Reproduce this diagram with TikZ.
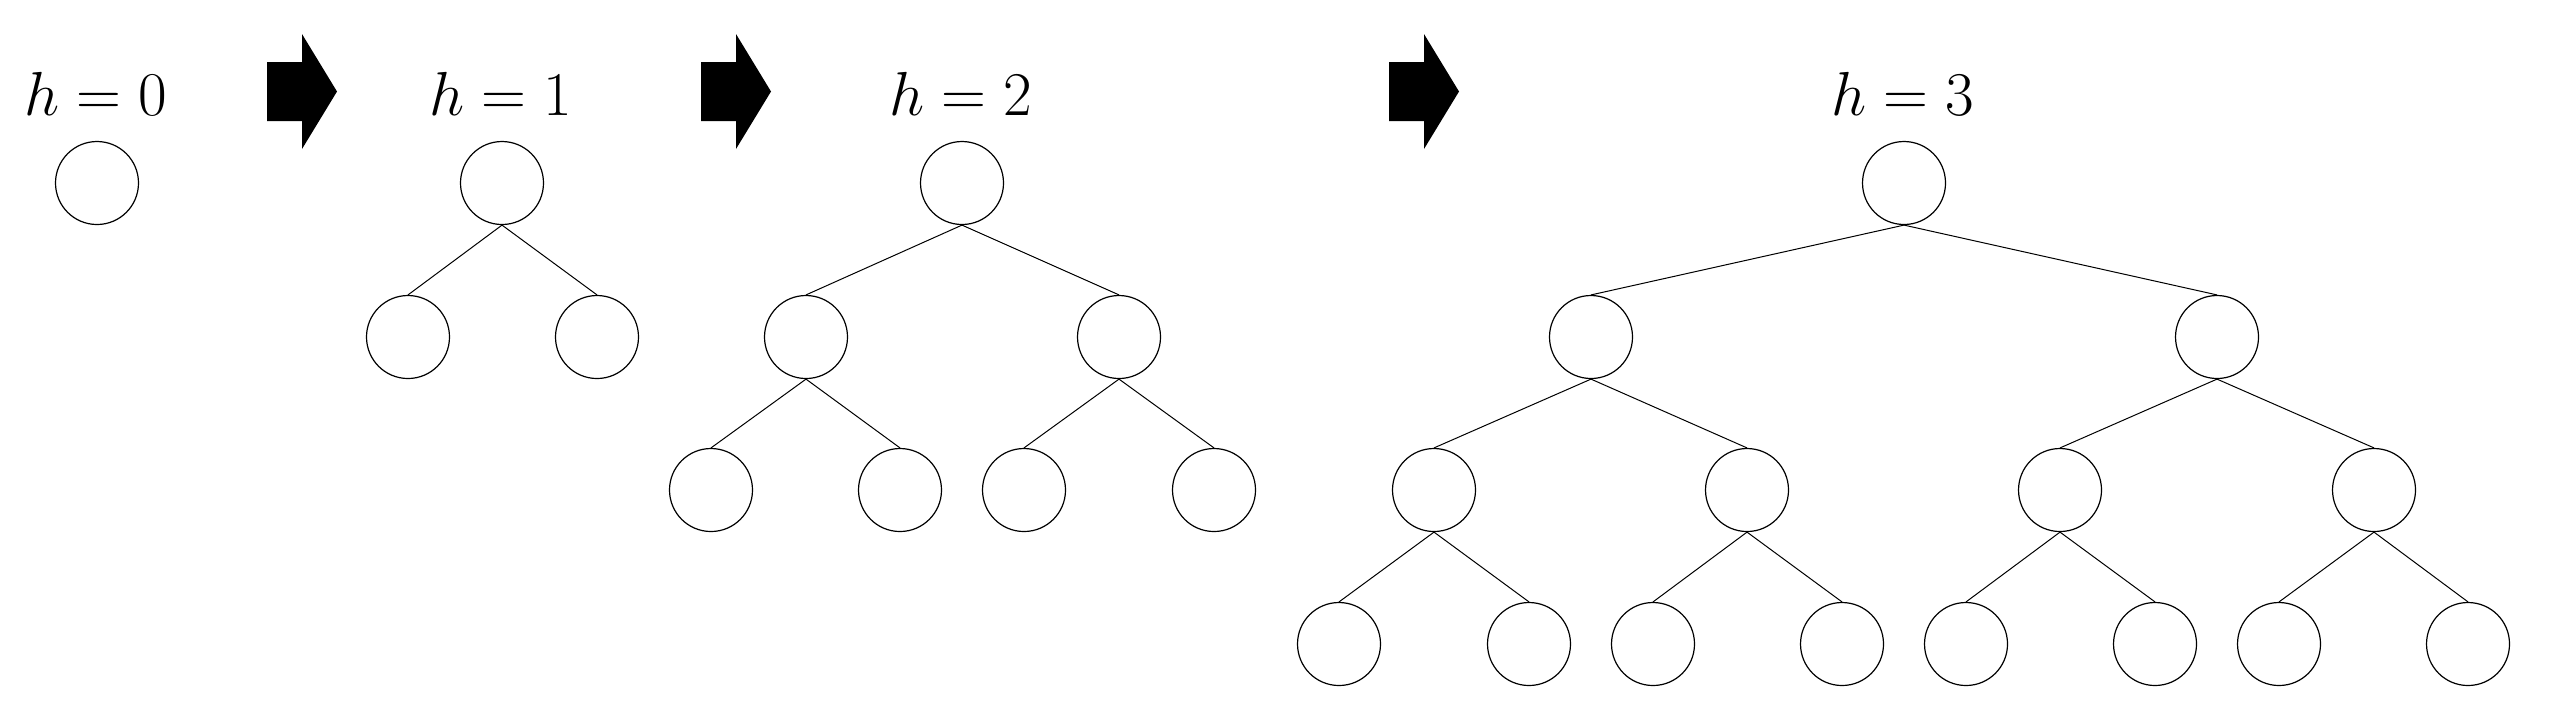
\documentclass[tikz,border=0pt]{standalone}
\usepackage{amsmath}
\usepackage{tikz}
\usetikzlibrary{positioning}
\newcommand{\hlabel}[1]{\scalebox{1.25}{\ensuremath{h = #1}}}
\newcommand{\growarrow}[2]{%
  \fill[black] (#1, -62) -- ++(35, 0) -- ++(0, 28) -- ++(35, -57.5)
    -- ++(-35, -57.5) -- ++(0, 28) -- ++(-35, 0) -- cycle;
  \coordinate (#2) at (#1, -91.5);}

\begin{document}
\begin{tikzpicture}[
    x = 0.5pt, y = 0.5pt,
    vertex/.style =
    { shape        = circle,
      draw,
      line width   = 0.6pt,
      inner sep    = 0pt,
      minimum size = 41.5pt },
    branch/.style =
    { line width = 0.5pt },
    height/.style =
    { anchor = base,
      inner sep = 0pt,
      font   = \fontsize{24.88}{30}\selectfont }
  ]
  \useasboundingbox (0, 0) rectangle (2558, -720);

  % labels
  \node[height] (l0) at (96, -115)   {\hlabel{0}};
  \node[height] (l1) at (501, -115)  {\hlabel{1}};
  \node[height] (l2) at (961, -115)  {\hlabel{2}};
  \node[height] (l3) at (1903, -115) {\hlabel{3}};

  % arrows
  \growarrow{267}{g1}
  \growarrow{701}{g2}
  \growarrow{1389}{g3}

  % h = 0
  \node[vertex] (a) at (97, -183) {};

  % h = 1
  \node[vertex] (b)  at (502, -183) {};
  \node[vertex] (bl) at (408, -337) {};
  \node[vertex] (br) at (597, -337) {};

  % h = 2
  \node[vertex] (c)   at (962, -183)  {};
  \node[vertex] (cl)  at (806, -337)  {};
  \node[vertex] (cr)  at (1119, -337) {};
  \node[vertex] (cll) at (711, -490)  {};
  \node[vertex] (clr) at (900, -490)  {};
  \node[vertex] (crl) at (1024, -490) {};
  \node[vertex] (crr) at (1214, -490) {};

  % h = 3
  \node[vertex] (d)    at (1904, -183) {};
  \node[vertex] (dl)   at (1591, -337) {};
  \node[vertex] (dr)   at (2217, -337) {};
  \node[vertex] (dll)  at (1434, -490) {};
  \node[vertex] (dlr)  at (1747, -490) {};
  \node[vertex] (drl)  at (2060, -490) {};
  \node[vertex] (drr)  at (2374, -490) {};
  \node[vertex] (dlll) at (1339, -644) {};
  \node[vertex] (dllr) at (1529, -644) {};
  \node[vertex] (dlrl) at (1653, -644) {};
  \node[vertex] (dlrr) at (1842, -644) {};
  \node[vertex] (drll) at (1966, -644) {};
  \node[vertex] (drlr) at (2155, -644) {};
  \node[vertex] (drrl) at (2279, -644) {};
  \node[vertex] (drrr) at (2468, -644) {};

  \path[branch]
  (b.south) edge (bl.north) edge (br.north)
  (c.south) edge (cl.north) edge (cr.north)
  (cl.south) edge (cll.north) edge (clr.north)
  (cr.south) edge (crl.north) edge (crr.north)
  (d.south) edge (dl.north) edge (dr.north)
  (dl.south) edge (dll.north) edge (dlr.north)
  (dr.south) edge (drl.north) edge (drr.north)
  (dll.south) edge (dlll.north) edge (dllr.north)
  (dlr.south) edge (dlrl.north) edge (dlrr.north)
  (drl.south) edge (drll.north) edge (drlr.north)
  (drr.south) edge (drrl.north) edge (drrr.north)
  ;
\end{tikzpicture}
\end{document}
